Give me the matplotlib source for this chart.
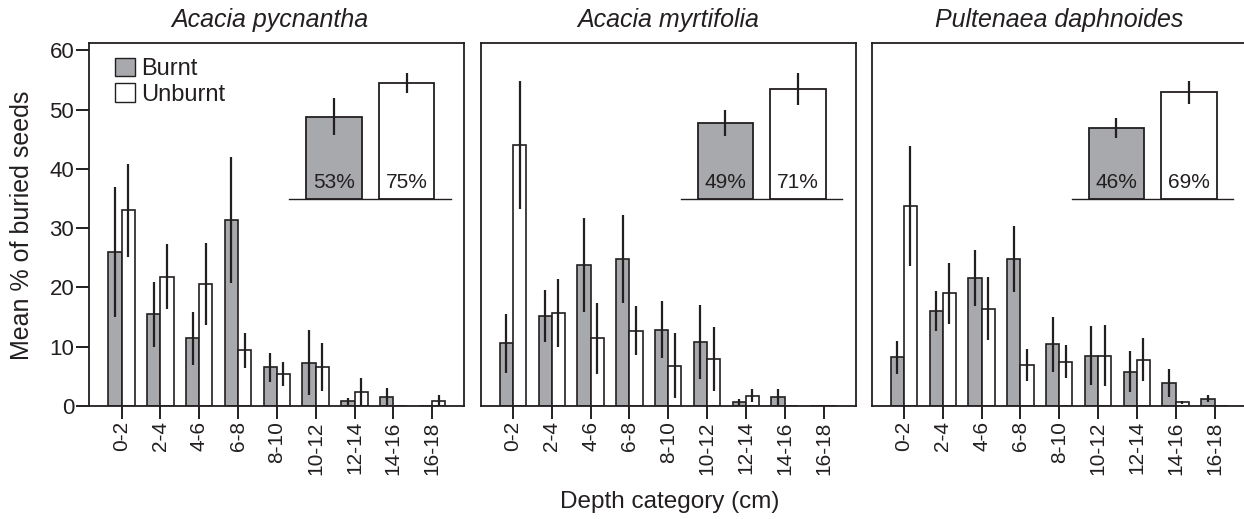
import matplotlib
matplotlib.use("Agg")
import matplotlib.pyplot as plt
from matplotlib.patches import Patch
import numpy as np

plt.rcParams['font.family'] = ['Liberation Sans', 'DejaVu Sans']

# data
depths = ['0-2', '2-4', '4-6', '6-8', '8-10', '10-12', '12-14', '14-16', '16-18']
species = ['Acacia pycnantha', 'Acacia myrtifolia', 'Pultenaea daphnoides']

burnt_pyc = [26.0, 15.5, 11.4, 31.4, 6.5, 7.3, 0.8, 1.6, 0]
burnt_pyc_err = [11.0, 5.5, 4.5, 10.6, 2.4, 5.5, 0.6, 1.4, 0]
unburnt_pyc = [33.0, 21.8, 20.6, 9.4, 5.4, 6.6, 2.4, 0, 0.9]
unburnt_pyc_err = [7.8, 5.5, 6.9, 3.0, 2.0, 4.0, 2.3, 0, 1.0]

burnt_myr = [10.6, 15.2, 23.8, 24.8, 12.9, 10.8, 0.7, 1.5, 0]
burnt_myr_err = [5.0, 4.4, 8.0, 7.5, 4.8, 6.2, 0.5, 1.3, 0]
unburnt_myr = [44.0, 15.7, 11.4, 12.7, 6.8, 8.0, 1.7, 0, 0]
unburnt_myr_err = [10.8, 5.7, 6.0, 4.1, 5.5, 5.4, 1.1, 0, 0]

burnt_pul = [8.2, 16.0, 21.6, 24.8, 10.4, 8.5, 5.8, 3.9, 1.2]
burnt_pul_err = [2.8, 3.4, 4.7, 5.5, 4.7, 5.0, 3.5, 2.3, 0.6]
unburnt_pul = [33.8, 19.0, 16.4, 6.9, 7.5, 8.5, 7.8, 0.6, 0]
unburnt_pul_err = [10.1, 5.2, 5.3, 2.7, 2.8, 5.2, 3.6, 0.2, 0]

# inset: overall % of seeds buried
total_burnt = [53, 49, 46]
total_burnt_err = [12.0, 8.7, 6.5]
total_unburnt = [75, 71, 69]
total_unburnt_err = [6.5, 10.2, 7.6]

burnt_all = [burnt_pyc, burnt_myr, burnt_pul]
burnt_err_all = [burnt_pyc_err, burnt_myr_err, burnt_pul_err]
unburnt_all = [unburnt_pyc, unburnt_myr, unburnt_pul]
unburnt_err_all = [unburnt_pyc_err, unburnt_myr_err, unburnt_pul_err]

grey = '#a7a9ac'
ink = '#231f20'

fig = plt.figure(figsize=(12.44, 5.19), dpi=100)
lefts = [0.0718, 0.3864, 0.7007]
title_x = [0.482, 0.5, 0.5]
x = np.arange(len(depths))
w = 0.34

for i in range(3):
    ax = fig.add_axes([lefts[i], 0.2177, 0.3015, 0.700])
    ax.bar(x - w / 2, burnt_all[i], w, color=grey, edgecolor=ink, linewidth=1.2,
           yerr=burnt_err_all[i], error_kw=dict(ecolor=ink, elinewidth=1.6, capsize=0))
    ax.bar(x + w / 2, unburnt_all[i], w, color='white', edgecolor=ink, linewidth=1.2,
           yerr=unburnt_err_all[i], error_kw=dict(ecolor=ink, elinewidth=1.6, capsize=0))
    ax.set_xlim(-0.83, 8.83)
    ax.set_ylim(0, 61.3)
    ax.set_xticks(x)
    ax.set_xticklabels(depths, rotation=90, fontsize=15, color=ink)
    ax.tick_params(axis='x', length=9.4, width=1.4, color=ink, pad=1.5)
    for s in ax.spines.values():
        s.set_linewidth(1.3)
        s.set_color(ink)
    if i == 0:
        ax.set_yticks([0, 10, 20, 30, 40, 50, 60])
        ax.tick_params(axis='y', length=9.4, width=1.4, color=ink, labelsize=16,
                       labelcolor=ink, pad=1.5)
        ax.legend(handles=[Patch(facecolor=grey, edgecolor=ink, label='Burnt'),
                           Patch(facecolor='white', edgecolor=ink, label='Unburnt')],
                  loc='upper left', bbox_to_anchor=(0.057, 0.972), frameon=False,
                  fontsize=17, handlelength=0.85, handleheight=0.85,
                  handletextpad=0.25, labelspacing=0.12, borderaxespad=0.0,
                  borderpad=0.2, labelcolor=ink)
    else:
        ax.set_yticks([])
    ax.set_title(species[i], fontsize=18, style='italic', pad=11, x=title_x[i], color=ink)

    # inset with the totals
    ins = ax.inset_axes([0.533, 0.571, 0.431, 0.424])
    ins.bar([0, 1], [total_burnt[i], total_unburnt[i]], 0.76,
            color=[grey, 'white'], edgecolor=ink, linewidth=1.3,
            yerr=[total_burnt_err[i], total_unburnt_err[i]],
            error_kw=dict(ecolor=ink, elinewidth=1.6, capsize=0))
    for j, v in enumerate([total_burnt[i], total_unburnt[i]]):
        ins.text(j, 7, f'{v}%', ha='center', va='baseline', fontsize=15, color=ink)
    ins.set_xlim(-0.615, 1.61)
    ins.set_ylim(0, 100)
    ins.patch.set_alpha(0)
    for side in ['top', 'left', 'right']:
        ins.spines[side].set_visible(False)
    ins.spines['bottom'].set_linewidth(1.0)
    ins.spines['bottom'].set_color(ink)
    ins.set_xticks([])
    ins.set_yticks([])

fig.text(22 / 1244, 1 - 225 / 519, 'Mean % of buried seeds', rotation=90,
         ha='center', va='center', fontsize=18, color=ink)
fig.text(0.538, 0.033, 'Depth category (cm)', ha='center', va='center', fontsize=17.5,
         color=ink)

fig.savefig('out.png', dpi=100)
